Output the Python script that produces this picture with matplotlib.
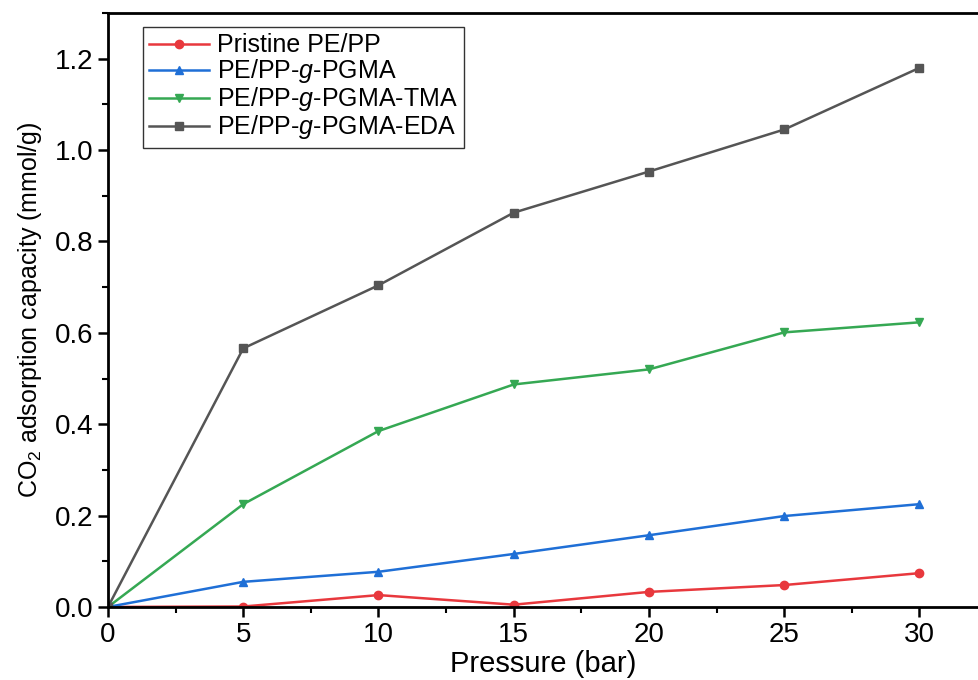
import matplotlib
matplotlib.use("Agg")
import matplotlib.pyplot as plt
from matplotlib.ticker import MultipleLocator

pressure = [0, 5, 10, 15, 20, 25, 30]
pristine = [0, 0.001, 0.026, 0.005, 0.033, 0.048, 0.074]
pgma = [0, 0.055, 0.077, 0.116, 0.157, 0.199, 0.225]
tma = [0, 0.225, 0.385, 0.487, 0.520, 0.601, 0.623]
eda = [0, 0.566, 0.704, 0.863, 0.953, 1.045, 1.180]

labels = ["Pristine PE/PP", "PE/PP-$\\mathit{g}$-PGMA",
          "PE/PP-$\\mathit{g}$-PGMA-TMA", "PE/PP-$\\mathit{g}$-PGMA-EDA"]
colors = ["#e8383d", "#1f6fd6", "#35a853", "#555555"]
markers = ["o", "^", "v", "s"]

plt.rcParams["font.family"] = ["Liberation Sans", "DejaVu Sans"]
plt.rcParams["mathtext.fontset"] = "custom"
plt.rcParams["mathtext.rm"] = "Liberation Sans"
plt.rcParams["mathtext.it"] = "Liberation Sans:italic"

fig = plt.figure(figsize=(9.79, 6.8), dpi=100)
ax = fig.add_axes([0.1103, 0.1074, 0.8897, 0.8735])

for y, lab, c, m in zip([pristine, pgma, tma, eda], labels, colors, markers):
    ax.plot(pressure, y, color=c, marker=m, markersize=6, linewidth=1.8, label=lab)

ax.set_xlim(0, 32.2)
ax.set_ylim(0, 1.3)
ax.xaxis.set_major_locator(MultipleLocator(5))
ax.xaxis.set_minor_locator(MultipleLocator(2.5))
ax.yaxis.set_major_locator(MultipleLocator(0.2))
ax.yaxis.set_minor_locator(MultipleLocator(0.1))
ax.yaxis.set_major_formatter(matplotlib.ticker.FormatStrFormatter("%.1f"))
ax.tick_params(which="major", direction="out", length=7, width=1.8, labelsize=20)
ax.tick_params(which="minor", direction="out", length=4, width=1.5)
for s in ["left", "bottom", "top"]:
    ax.spines[s].set_linewidth(2)
ax.spines["right"].set_visible(False)

ax.set_xlabel("Pressure (bar)", fontsize=21, labelpad=2)
ax.set_ylabel("CO$_2$ adsorption capacity (mmol/g)", fontsize=18, labelpad=8)

leg = ax.legend(loc="upper left", bbox_to_anchor=(0.04, 0.976), borderaxespad=0,
                fontsize=18, frameon=True, fancybox=False, edgecolor="black",
                handlelength=2.4, borderpad=0.25, labelspacing=0.0, handletextpad=0.3)
leg.get_frame().set_linewidth(1.0)

fig.savefig("out.png", dpi=100)
